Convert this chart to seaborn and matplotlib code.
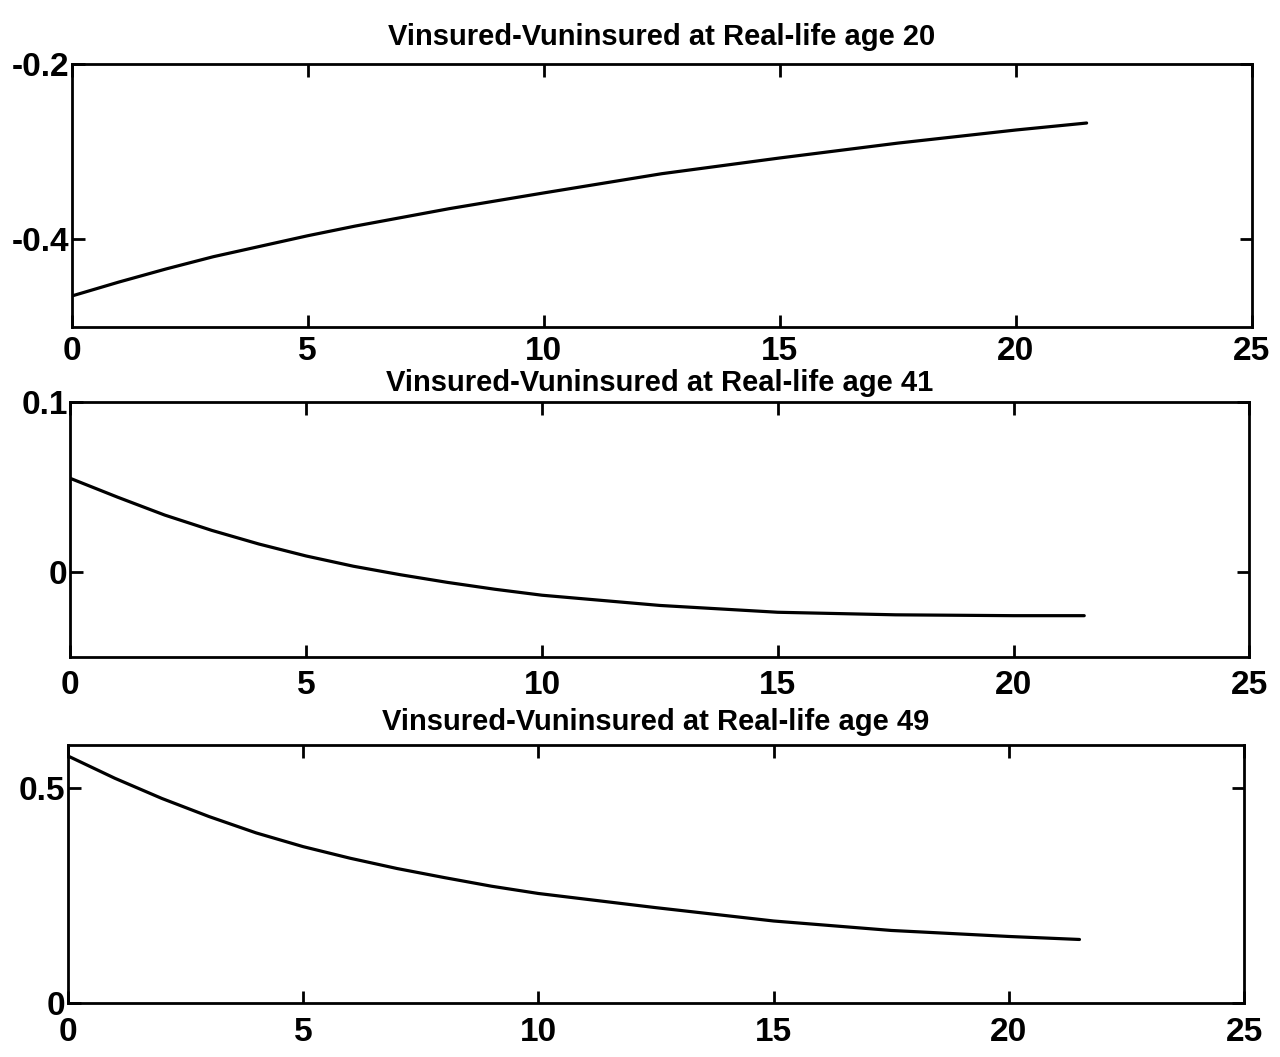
import matplotlib
matplotlib.use("Agg")
import matplotlib.pyplot as plt
import seaborn as sns
import pandas as pd

# ---- data ----
x_vals = [0, 1, 2, 3, 4, 5, 6, 7, 8, 9, 10, 12.5, 15, 17.5, 20, 21.5]
age20 = [-0.465, -0.449, -0.434, -0.420, -0.408, -0.396, -0.385, -0.375,
         -0.365, -0.356, -0.347, -0.325, -0.307, -0.290, -0.275, -0.267]
age41 = [0.055, 0.044, 0.0335, 0.0245, 0.0165, 0.0095, 0.0035, -0.0015,
         -0.006, -0.010, -0.0135, -0.0195, -0.0235, -0.025, -0.0255, -0.0255]
age49 = [0.575, 0.523, 0.476, 0.434, 0.396, 0.364, 0.337, 0.313,
         0.292, 0.272, 0.255, 0.222, 0.191, 0.169, 0.155, 0.148]

titles = ["Vinsured-Vuninsured at Real-life age 20",
          "Vinsured-Vuninsured at Real-life age 41",
          "Vinsured-Vuninsured at Real-life age 49"]
x_ticks = [0, 5, 10, 15, 20, 25]
y_ticks = [[-0.4, -0.2], [0, 0.1], [0, 0.5]]
y_ticklabels = [["-0.4", "-0.2"], ["0", "0.1"], ["0", "0.5"]]
y_limits = [(-0.5, -0.2), (-0.05, 0.1), (0, 0.6)]

sns.set_theme(style="ticks")
plt.rcParams['font.family'] = ['Liberation Sans', 'DejaVu Sans']
plt.rcParams['font.weight'] = 'bold'

fig = plt.figure(figsize=(12.8, 10.57), dpi=100)
positions = [[0.056, 0.691, 0.922, 0.248],
             [0.055, 0.378, 0.921, 0.242],
             [0.053, 0.051, 0.919, 0.244]]
pads = [14, 8, 11]
xpads = [7, 9, 10]
series = [age20, age41, age49]

for i in range(3):
    ax = fig.add_axes(positions[i])
    df = pd.DataFrame({"x": x_vals, "y": series[i]})
    sns.lineplot(data=df, x="x", y="y", ax=ax, color="black", linewidth=2.3)
    ax.set_xlim(0, 25)
    ax.set_ylim(*y_limits[i])
    ax.set_xticks(x_ticks)
    ax.set_xticklabels([str(t) for t in x_ticks])
    ax.set_yticks(y_ticks[i])
    ax.set_yticklabels(y_ticklabels[i])
    ax.set_xlabel("")
    ax.set_ylabel("")
    for s in ax.spines.values():
        s.set_visible(True)
        s.set_linewidth(2.0)
        s.set_color("black")
    ax.tick_params(direction="in", length=9, width=2, top=True, right=True,
                   labelsize=24, colors="black")
    ax.tick_params(axis="x", pad=xpads[i])
    ax.tick_params(axis="y", pad=2)
    for lab in ax.get_xticklabels() + ax.get_yticklabels():
        lab.set_fontweight("bold")
    ax.set_title(titles[i], fontsize=21, fontweight="bold", pad=pads[i], color="black")

fig.savefig("out.png", dpi=100, facecolor="white")
